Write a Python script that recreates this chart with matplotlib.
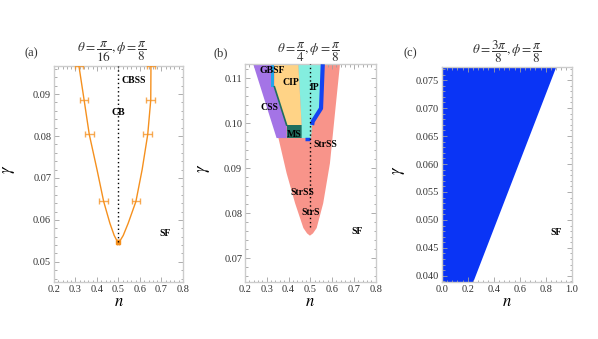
import numpy as np
import matplotlib
matplotlib.use("Agg")
import matplotlib.pyplot as plt
from matplotlib.ticker import AutoMinorLocator, FixedLocator, FormatStrFormatter

plt.rcParams["font.family"] = ["Liberation Serif", "DejaVu Serif"]
plt.rcParams["mathtext.fontset"] = "stix"

# ---------- panel (a) data ----------
a_err_n = [0.316, 0.340, 0.364, 0.431, 0.499, 0.581, 0.636, 0.650, 0.651]
a_err_g = [0.0966, 0.0886, 0.0804, 0.0644, 0.0548, 0.0644, 0.0804, 0.0886, 0.0966]
a_err_w = [0.02, 0.02, 0.02, 0.02, 0.004, 0.02, 0.02, 0.02, 0.02]
a_curve_n = [0.316, 0.340, 0.364, 0.400, 0.431, 0.460, 0.480, 0.492, 0.499,
             0.508, 0.522, 0.545, 0.581, 0.610, 0.636, 0.650, 0.651]
a_curve_g = [0.0967, 0.0886, 0.0804, 0.0720, 0.0644, 0.0592, 0.0563, 0.0551, 0.0548,
             0.0551, 0.0563, 0.0592, 0.0644, 0.0720, 0.0804, 0.0886, 0.0967]

# ---------- panel (b) data ----------
red_n = [0.300, 0.353, 0.391, 0.430, 0.468, 0.485, 0.498, 0.512, 0.529, 0.559, 0.590, 0.613, 0.636]
red_g = [0.1131, 0.0968, 0.0889, 0.0822, 0.0767, 0.0755, 0.0750, 0.0755, 0.0767, 0.0822, 0.0911, 0.1022, 0.1131]
purple_n = [0.238, 0.319, 0.319, 0.335, 0.391, 0.391, 0.345]
purple_g = [0.1131, 0.1131, 0.1081, 0.1081, 0.0996, 0.0967, 0.0967]
gbsf_n = [0.319, 0.335, 0.335, 0.319]
gbsf_g = [0.1131, 0.1131, 0.1081, 0.1081]
cip_n = [0.335, 0.445, 0.460, 0.391, 0.335]
cip_g = [0.1131, 0.1131, 0.0996, 0.0996, 0.1081]
ms_n = [0.391, 0.460, 0.460, 0.391]
ms_g = [0.0996, 0.0996, 0.0967, 0.0967]
ip_n = [0.445, 0.557, 0.549, 0.511, 0.508, 0.503, 0.460, 0.460]
ip_g = [0.1131, 0.1131, 0.1033, 0.1004, 0.0996, 0.0967, 0.0967, 0.0996]
blue_line_n = [0.557, 0.549, 0.511, 0.508]
blue_line_g = [0.1131, 0.1033, 0.1004, 0.0996]
blue_bar_n = [0.475, 0.500]
blue_bar_g = [0.0965, 0.0965]
b_labels = [("GBSF", 0.323, 0.1117), ("CIP", 0.410, 0.1091), ("IP", 0.518, 0.1079),
            ("CSS", 0.312, 0.1036), ("MS", 0.426, 0.0974), ("StrSS", 0.567, 0.0952),
            ("StrSS", 0.463, 0.0846), ("StrS", 0.502, 0.0801), ("SF", 0.716, 0.0759)]

# ---------- panel (c) data ----------
c_bound_g = [0.0389, 0.0774]
c_bound_n = [0.238, 0.877]

orange = "#f5901e"
tick_gray = "#a0a0a0"
text_gray = "#333333"

fig = plt.figure(figsize=(5.98, 3.39), dpi=100)
ax_a = fig.add_axes([54/598, 1-282/339, 129/598, 216/339])
ax_b = fig.add_axes([245/598, 1-282/339, 130.7/598, 217.7/339])
ax_c = fig.add_axes([441.7/598, 1-282/339, 130/598, 215.3/339])


def style(ax):
    for s in ax.spines.values():
        s.set_color("#cccccc")
        s.set_linewidth(1.0)
    ax.xaxis.set_minor_locator(AutoMinorLocator(5))
    ax.yaxis.set_minor_locator(AutoMinorLocator(5))
    ax.tick_params(which="both", direction="in", top=True, right=True,
                   color=tick_gray, labelsize=7.5, labelcolor=text_gray, width=0.6, pad=2)
    ax.tick_params(which="major", length=3.5)
    ax.tick_params(which="minor", length=1.8)
    ax.set_xlabel(r"$n$", fontsize=12, labelpad=0)
    ax.set_ylabel(r"$\gamma$", fontsize=12)


# ---------- (a) ----------
ax_a.plot(a_curve_n, a_curve_g, color=orange, lw=1.0, zorder=3)
ax_a.errorbar(a_err_n, a_err_g, xerr=a_err_w, fmt="none", ecolor=orange, elinewidth=1.0,
              capsize=2.0, capthick=1.0, alpha=0.75, zorder=4)
ax_a.plot([0.499], [0.0548], "s", color=orange, ms=2.5, zorder=5)
ax_a.plot([0.5, 0.5], [0.0548, 0.0967], color="black", lw=1.0, ls=(0, (1, 2)), zorder=5)
ax_a.text(0.569, 0.0933, "CBSS", fontsize=7, fontweight="bold", ha="center", va="center")
ax_a.text(0.499, 0.0856, "CB", fontsize=7, fontweight="bold", ha="center", va="center")
ax_a.text(0.716, 0.0568, "SF", fontsize=7, fontweight="bold", ha="center", va="center")
ax_a.set_xlim(0.2, 0.8)
ax_a.set_ylim(0.0452, 0.0967)
ax_a.xaxis.set_major_locator(FixedLocator([0.2, 0.3, 0.4, 0.5, 0.6, 0.7, 0.8]))
ax_a.yaxis.set_major_locator(FixedLocator([0.05, 0.06, 0.07, 0.08, 0.09]))
ax_a.xaxis.set_major_formatter(FormatStrFormatter("%.1f"))
ax_a.yaxis.set_major_formatter(FormatStrFormatter("%.2f"))
style(ax_a)
ax_a.yaxis.set_label_coords(-0.29, 0.52)

# ---------- (b) ----------
ax_b.fill(red_n, red_g, color="#f8948a", lw=0, zorder=1)
ax_b.fill(purple_n, purple_g, color="#a474e6", lw=0, zorder=2)
ax_b.fill(gbsf_n, gbsf_g, color="#22a6ea", lw=0, zorder=2)
ax_b.fill(cip_n, cip_g, color="#ffd386", lw=0, zorder=2)
ax_b.plot([0.335, 0.391], [0.1081, 0.0996], color="#1f6f5f", lw=1.2, zorder=3)
ax_b.fill(ms_n, ms_g, color="#1f6f5f", lw=0, zorder=2)
ax_b.fill(ip_n, ip_g, color="#84eedf", lw=0, zorder=2)
ax_b.plot(blue_line_n, blue_line_g, color="#1444f2", lw=3.0, solid_capstyle="butt", zorder=3)
ax_b.plot(blue_bar_n, blue_bar_g, color="#1444f2", lw=2.5, solid_capstyle="butt", zorder=3)
ax_b.plot([0.5, 0.5], [0.0770, 0.1131], color="black", lw=1.0, ls=(0, (1, 2)), zorder=4)
for txt, xx, yy in b_labels:
    ax_b.text(xx, yy, txt, fontsize=7, fontweight="bold", ha="center", va="center", zorder=5)
ax_b.set_xlim(0.2, 0.8)
ax_b.set_ylim(0.0647, 0.1131)
ax_b.xaxis.set_major_locator(FixedLocator([0.2, 0.3, 0.4, 0.5, 0.6, 0.7, 0.8]))
ax_b.yaxis.set_major_locator(FixedLocator([0.07, 0.08, 0.09, 0.10, 0.11]))
ax_b.xaxis.set_major_formatter(FormatStrFormatter("%.1f"))
ax_b.yaxis.set_major_formatter(FormatStrFormatter("%.2f"))
style(ax_b)
ax_b.yaxis.set_label_coords(-0.255, 0.52)

# ---------- (c) ----------
ax_c.fill_betweenx(c_bound_g, 0, c_bound_n, color="#0a34f5", lw=0)
ax_c.text(0.877, 0.0478, "SF", fontsize=7, fontweight="bold", ha="center", va="center")
ax_c.set_xlim(0.0, 1.0)
ax_c.set_ylim(0.0389, 0.0774)
ax_c.xaxis.set_major_locator(FixedLocator([0.0, 0.2, 0.4, 0.6, 0.8, 1.0]))
ax_c.yaxis.set_major_locator(FixedLocator([0.040, 0.045, 0.050, 0.055, 0.060, 0.065, 0.070, 0.075]))
ax_c.xaxis.set_major_formatter(FormatStrFormatter("%.1f"))
ax_c.yaxis.set_major_formatter(FormatStrFormatter("%.3f"))
style(ax_c)
ax_c.yaxis.set_label_coords(-0.27, 0.52)

# ---------- titles ----------
titles = [r"$\theta=\dfrac{\pi}{16},\phi=\dfrac{\pi}{8}$",
          r"$\theta=\dfrac{\pi}{4},\phi=\dfrac{\pi}{8}$",
          r"$\theta=\dfrac{3\pi}{8},\phi=\dfrac{\pi}{8}$"]
title_x = [112, 309, 507]
panel = ["(a)", "(b)", "(c)"]
panel_x = [31, 221, 410]
for t, tx, p, px in zip(titles, title_x, panel, panel_x):
    fig.text(tx/598, 1-52/339, t, fontsize=9.5, ha="center", va="center", color=text_gray)
    fig.text(px/598, 1-53/339, p, fontsize=9, ha="center", va="center", color=text_gray)

fig.savefig("out.png", dpi=100)
